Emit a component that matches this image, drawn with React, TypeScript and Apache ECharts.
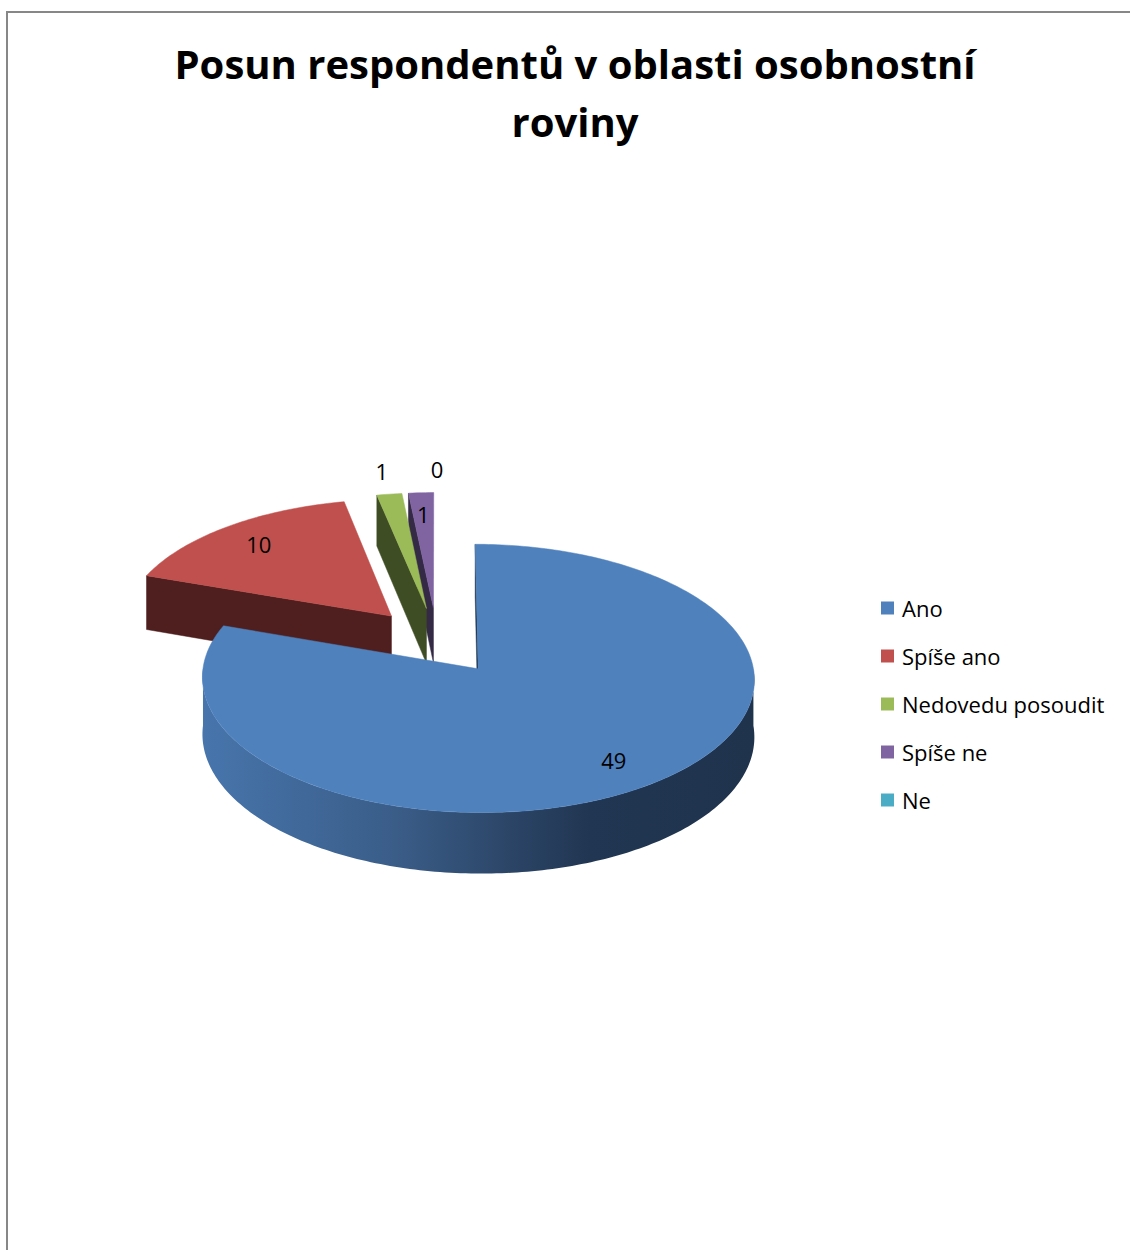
import React, { useEffect, useRef } from 'react';
import * as echarts from 'echarts';

const categories = ['Ano', 'Spíše ano', 'Nedovedu posoudit', 'Spíše ne', 'Ne'];
const values = [49, 10, 1, 1, 0];
const topColors = ['#4F81BD', '#C0504D', '#9BBB59', '#8064A2', '#4BACC6'];
const sideColors = ['#1F344F', '#4E1F1E', '#3E4D23', '#352A45', '#1E4A55'];
const labelModes = ['inside', 'inside', 'outside', 'inside', 'outside'];
const titleLines = ['Posun respondentů v oblasti osobnostní', 'roviny'];

// 3D projection parameters
const CX = 437;
const CY = 641;
const R = 271;
const K = 0.48;
const ALPHA = 0.074;
const EXPLODE = 70;
const DEPTH = 56;

function project(u: number, v: number, h: number): number[] {
  const s = 1 + (ALPHA * v) / R;
  return [CX + u * s, CY + v * K * s + h * s];
}

export default function App() {
  const ref = useRef<HTMLDivElement>(null);

  useEffect(() => {
    document.body.style.margin = '0';
    if (!ref.current) return;
    const chart = echarts.init(ref.current, null, { renderer: 'svg' });

    const total = values.reduce((a, b) => a + b, 0);
    const cum: number[] = [];
    let acc = 0;
    values.forEach((v) => {
      cum.push(acc);
      acc += v;
    });

    const renderItem = (params: any, api: any) => {
      const i = params.dataIndex;
      const val = api.value(0);
      const start = (cum[i] / total) * Math.PI * 2;
      const end = start + (val / total) * Math.PI * 2;
      const mid = (start + end) / 2;
      const ou = EXPLODE * Math.sin(mid);
      const ov = -EXPLODE * Math.cos(mid);
      const pt = (th: number, r: number, h: number) =>
        project(ou + r * Math.sin(th), ov - r * Math.cos(th), h);
      const base = Math.round((ov + 300) * 10);
      const children: any[] = [];
      const step = Math.PI / 180;

      if (end - start > 1e-6) {
        if (Math.sin(start) <= 1e-6) {
          children.push({
            type: 'polygon',
            shape: { points: [pt(start, 0, 0), pt(start, R, 0), pt(start, R, DEPTH), pt(start, 0, DEPTH)] },
            style: { fill: sideColors[i], stroke: sideColors[i], lineWidth: 0.5 },
            z2: base,
          });
        }
        if (Math.sin(end) > 1e-6) {
          children.push({
            type: 'polygon',
            shape: { points: [pt(end, 0, 0), pt(end, R, 0), pt(end, R, DEPTH), pt(end, 0, DEPTH)] },
            style: { fill: sideColors[i], stroke: sideColors[i], lineWidth: 0.5 },
            z2: base,
          });
        }
        const a = Math.max(start, Math.PI / 2);
        const b = Math.min(end, (Math.PI * 3) / 2);
        if (b > a) {
          const topPts: number[][] = [];
          const botPts: number[][] = [];
          const n = Math.max(2, Math.ceil((b - a) / step));
          for (let k = 0; k <= n; k++) {
            const th = a + ((b - a) * k) / n;
            topPts.push(pt(th, R, 0));
            botPts.push(pt(th, R, DEPTH));
          }
          const fill =
            i === 0
              ? new echarts.graphic.LinearGradient(0, 0, 1, 0, [
                  { offset: 0, color: '#4775AC' },
                  { offset: 0.35, color: '#3A5D88' },
                  { offset: 0.55, color: '#2C4668' },
                  { offset: 0.7, color: '#213652' },
                  { offset: 1, color: '#1F334D' },
                ])
              : sideColors[i];
          children.push({
            type: 'polygon',
            shape: { points: topPts.concat(botPts.reverse()) },
            style: { fill },
            z2: base + 1,
          });
        }
        const face: number[][] = [pt(0, 0, 0)];
        const n = Math.max(2, Math.ceil((end - start) / step));
        for (let k = 0; k <= n; k++) {
          face.push(pt(start + ((end - start) * k) / n, R, 0));
        }
        children.push({
          type: 'polygon',
          shape: { points: face },
          style: { fill: topColors[i], stroke: topColors[i], lineWidth: 0.5 },
          z2: base + 2,
        });
      }

      const lp = labelModes[i] === 'inside' ? pt(mid, R * 0.8, 0) : pt(mid, R * 1.23, 0);
      children.push({
        type: 'text',
        x: lp[0],
        y: lp[1],
        style: {
          text: String(val),
          fill: '#000000',
          font: '22px "Open Sans"',
          align: 'center',
          verticalAlign: 'middle',
        },
        z2: 100000,
      });

      return { type: 'group', children };
    };

    chart.setOption({
      animation: false,
      backgroundColor: '#ffffff',
      legend: {
        orient: 'vertical',
        left: 876,
        top: 592,
        itemWidth: 13,
        itemHeight: 13,
        itemGap: 26,
        icon: 'rect',
        selectedMode: false,
        data: categories,
        textStyle: {
          fontFamily: 'Open Sans',
          fontSize: 22,
          color: '#000000',
          padding: [0, 0, 0, 3],
        },
      },
      graphic: [
        {
          type: 'rect',
          shape: { x: 7, y: 12, width: 1140, height: 1260 },
          style: { fill: 'none', stroke: '#878787', lineWidth: 2 },
          silent: true,
        },
        {
          type: 'text',
          x: 575,
          y: 63,
          style: {
            text: titleLines[0],
            font: 'bold 40px "Open Sans"',
            fill: '#000000',
            align: 'center',
            verticalAlign: 'middle',
          },
        },
        {
          type: 'text',
          x: 575,
          y: 121,
          style: {
            text: titleLines[1],
            font: 'bold 40px "Open Sans"',
            fill: '#000000',
            align: 'center',
            verticalAlign: 'middle',
          },
        },
      ],
      series: [
        {
          type: 'custom',
          coordinateSystem: 'none',
          renderItem,
          data: values.map((v, i) => ({ name: categories[i], value: [v] })),
        },
        {
          type: 'pie',
          radius: [0, 0],
          center: [437, 642],
          silent: true,
          label: { show: false },
          labelLine: { show: false },
          data: values.map((v, i) => ({
            name: categories[i],
            value: v,
            itemStyle: { color: topColors[i] },
          })),
        },
      ],
    });

    return () => {
      chart.dispose();
    };
  }, []);

  return <div ref={ref} style={{ width: 1130, height: 1250 }} />;
}
